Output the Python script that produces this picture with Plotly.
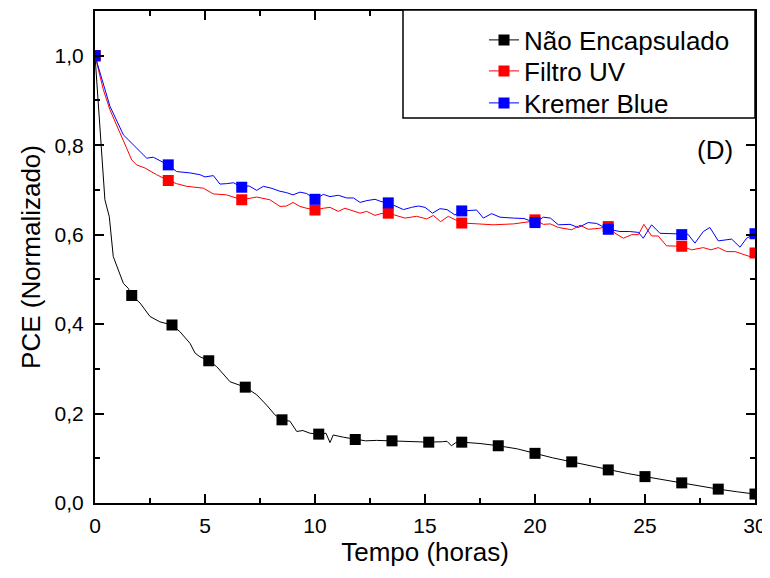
import plotly.graph_objects as go

# ---- data ----
black_x = [0, 0.1, 0.23, 0.45, 0.65, 0.76, 0.83, 1.06, 1.29, 1.51, 1.67, 2.05, 2.5, 2.95, 3.5,
           3.86, 4.32, 4.55, 4.77, 5.17, 5.53, 6.14, 6.83, 7.35, 7.8, 8.18, 8.5, 8.86, 9.17, 9.45,
           9.77, 10.17, 10.5, 10.68, 10.83, 11.3, 11.83, 12.3, 12.8, 13.5, 14.3, 15.17, 15.8,
           16.0, 16.2, 16.4, 16.67, 17.5, 18.33, 19.2, 20.0, 20.8, 21.67, 22.5, 23.33, 24.2,
           25.0, 25.8, 26.67, 27.5, 28.33, 29.2, 30.0]
black_y = [1.0, 0.93, 0.842, 0.678, 0.64, 0.581, 0.551, 0.521, 0.491, 0.48, 0.464, 0.447, 0.417,
           0.405, 0.398, 0.383, 0.357, 0.335, 0.327, 0.318, 0.305, 0.271, 0.259, 0.242, 0.219,
           0.197, 0.186, 0.183, 0.16, 0.162, 0.156, 0.154, 0.156, 0.135, 0.152, 0.147, 0.142,
           0.139, 0.140, 0.139, 0.138, 0.136, 0.137, 0.138, 0.128, 0.135, 0.136, 0.133, 0.128,
           0.121, 0.111, 0.101, 0.092, 0.083, 0.074, 0.066, 0.059, 0.052, 0.045, 0.038, 0.031,
           0.025, 0.02]
black_mx = [0, 1.67, 3.5, 5.17, 6.83, 8.5, 10.17, 11.83, 13.5, 15.17, 16.67, 18.33, 20.0,
            21.67, 23.33, 25.0, 26.67, 28.33, 30.0]
black_my = [1.0, 0.464, 0.398, 0.318, 0.259, 0.186, 0.154, 0.142, 0.139, 0.136, 0.136, 0.128,
            0.111, 0.092, 0.074, 0.059, 0.045, 0.031, 0.02]

red_x = [0, 0.38, 0.68, 1.29, 1.67, 1.89, 2.27, 2.8, 3.33, 3.71, 4.17, 4.92, 5.38, 5.98, 6.67,
         7.35, 7.95, 8.41, 8.71, 9.0, 9.32, 9.62, 10.0, 10.38, 10.68, 11.06, 11.36, 12.05,
         12.35, 12.73, 13.0, 13.33, 13.71, 14.09, 14.62, 15.08, 15.38, 15.71, 16.06, 16.67,
         17.42, 18.1, 19.02, 19.77, 20.0, 20.38, 20.7, 21.06, 21.67, 22.05, 22.42, 22.9, 23.33,
         23.64, 24.02, 24.4, 24.7, 24.95, 25.3, 25.6, 25.98, 26.44, 26.67, 27.12, 27.65, 28.0,
         28.33, 28.71, 29.1, 29.77, 30.0]
red_y = [1.0, 0.924, 0.879, 0.812, 0.767, 0.756, 0.749, 0.734, 0.721, 0.714, 0.708, 0.704,
         0.691, 0.689, 0.678, 0.684, 0.678, 0.663, 0.664, 0.672, 0.663, 0.659, 0.655, 0.659,
         0.661, 0.652, 0.659, 0.648, 0.652, 0.643, 0.647, 0.648, 0.643, 0.637, 0.641, 0.635,
         0.643, 0.629, 0.641, 0.626, 0.624, 0.622, 0.624, 0.629, 0.633, 0.623, 0.624, 0.616,
         0.611, 0.621, 0.612, 0.614, 0.618, 0.603, 0.592, 0.6, 0.6, 0.623, 0.597, 0.597, 0.575,
         0.574, 0.574, 0.566, 0.571, 0.566, 0.571, 0.562, 0.562, 0.551, 0.559]
red_mx = [0, 3.33, 6.67, 10.0, 13.33, 16.67, 20.0, 23.33, 26.67, 30.0]
red_my = [1.0, 0.721, 0.678, 0.655, 0.648, 0.626, 0.633, 0.618, 0.574, 0.559]

blue_x = [0, 0.38, 0.68, 1.29, 1.67, 2.35, 2.65, 2.95, 3.33, 3.71, 4.32, 4.77, 5.0, 5.38, 5.68,
          5.98, 6.3, 6.67, 7.0, 7.35, 7.65, 8.0, 8.41, 8.7, 9.0, 9.32, 9.62, 10.0, 10.38, 10.68,
          11.06, 11.44, 11.75, 12.05, 12.35, 12.73, 13.0, 13.33, 13.71, 14.02, 14.39, 14.7,
          15.0, 15.34, 15.68, 16.0, 16.36, 16.67, 17.35, 17.65, 18.03, 18.41, 19.02, 19.5,
          20.0, 20.38, 20.7, 21.06, 21.59, 21.97, 22.42, 22.8, 23.33, 23.86, 24.3, 24.7, 24.92,
          25.3, 25.68, 26.1, 26.67, 26.95, 27.27, 27.65, 27.95, 28.33, 28.94, 29.32, 29.62, 30.0]
blue_y = [1.0, 0.939, 0.887, 0.823, 0.805, 0.771, 0.773, 0.766, 0.756, 0.741, 0.738, 0.734,
          0.729, 0.732, 0.713, 0.714, 0.716, 0.706, 0.709, 0.699, 0.708, 0.704, 0.697, 0.694,
          0.689, 0.695, 0.692, 0.679, 0.69, 0.685, 0.688, 0.682, 0.682, 0.672, 0.676, 0.679,
          0.674, 0.671, 0.663, 0.656, 0.661, 0.664, 0.661, 0.648, 0.658, 0.656, 0.644, 0.653,
          0.655, 0.637, 0.647, 0.639, 0.637, 0.636, 0.627, 0.639, 0.637, 0.622, 0.623, 0.616,
          0.627, 0.625, 0.612, 0.607, 0.607, 0.605, 0.592, 0.622, 0.603, 0.602, 0.6, 0.601,
          0.581, 0.607, 0.616, 0.586, 0.59, 0.572, 0.592, 0.602]
blue_mx = [0, 3.33, 6.67, 10.0, 13.33, 16.67, 20.0, 23.33, 26.67, 30.0]
blue_my = [1.0, 0.756, 0.706, 0.679, 0.671, 0.653, 0.627, 0.612, 0.600, 0.602]

series_names = ["Não Encapsulado", "Filtro UV", "Kremer Blue"]
x_ticks = [0, 5, 10, 15, 20, 25, 30]
y_ticks = [0.0, 0.2, 0.4, 0.6, 0.8, 1.0]

FONT = "Liberation Sans"
colors = ["#000000", "#FF0000", "#0000FF"]
series = [
    (black_x, black_y, black_mx, black_my),
    (red_x, red_y, red_mx, red_my),
    (blue_x, blue_y, blue_mx, blue_my),
]

# page body has an 8px margin: plot area wanted at x 95..755, y 11..503 in the window
OFF = 8
PL, PR, PT, PB = 95 - OFF, 755 - OFF, 11 - OFF, 503 - OFF
W, H = 770, 578
PW, PH = PR - PL, PB - PT


def px_x(px):
    return (px - OFF - PL) / PW


def px_y(py):
    return (PB - (py - OFF)) / PH


fig = go.Figure()
for (lx, ly, mx, my), c in zip(series, colors):
    fig.add_trace(go.Scatter(x=lx, y=ly, mode="lines", line=dict(color=c, width=1),
                             showlegend=False, hoverinfo="skip"))
    fig.add_trace(go.Scatter(x=mx, y=my, mode="markers",
                             marker=dict(symbol="square", size=11, color=c, line=dict(width=0)),
                             showlegend=False))
legend_ids = ["legend", "legend2", "legend3"]
for name, c, lg in zip(series_names, colors, legend_ids):
    fig.add_trace(go.Scatter(x=[None], y=[None], mode="lines+markers", name=name,
                             line=dict(color=c, width=1), legend=lg,
                             marker=dict(symbol="square", size=11, color=c)))

axis_common = dict(
    showgrid=False, zeroline=False, showline=True, linecolor="black", linewidth=2,
    mirror="ticks", ticks="inside", ticklen=9, tickwidth=1.5, tickcolor="black",
    tickfont=dict(family=FONT, size=21, color="black"), automargin=False,
)
fig.update_xaxes(range=[0, 30], tickvals=x_ticks, ticktext=[str(v) for v in x_ticks],
                 ticklabelstandoff=3,
                 minor=dict(ticks="inside", ticklen=5, tickwidth=1.5, tickcolor="black", dtick=2.5, tick0=0),
                 title=dict(text="Tempo (horas)", font=dict(family=FONT, size=26, color="black"), standoff=7),
                 **axis_common)
fig.update_yaxes(range=[0, 1.1], tickvals=y_ticks,
                 ticktext=[f"{v:.1f}".replace(".", ",") for v in y_ticks],
                 ticklabelstandoff=5,
                 minor=dict(ticks="inside", ticklen=5, tickwidth=1.5, tickcolor="black", dtick=0.1, tick0=0),
                 title=dict(text="PCE (Normalizado)", font=dict(family=FONT, size=26, color="black"), standoff=6),
                 **axis_common)

fig.add_shape(type="rect", xref="paper", yref="paper", x0=px_x(403), x1=1.0,
              y0=px_y(118), y1=px_y(10),
              line=dict(color="black", width=1.5), fillcolor="white", layer="above")

fig.add_annotation(x=28.2, y=0.79, text="(D)", showarrow=False,
                   font=dict(family=FONT, size=26, color="black"))

leg_rows = [40, 71, 103]
leg_common = dict(xanchor="left", yanchor="middle", bgcolor="rgba(0,0,0,0)", borderwidth=0,
                  font=dict(family=FONT, size=26, color="black"))
fig.update_layout(
    width=W, height=H,
    margin=dict(l=PL, r=W - PR, t=PT, b=H - PB),
    paper_bgcolor="white", plot_bgcolor="white",
    showlegend=True,
    legend=dict(x=px_x(484), y=px_y(leg_rows[0]), **leg_common),
    legend2=dict(x=px_x(484), y=px_y(leg_rows[1]), **leg_common),
    legend3=dict(x=px_x(484), y=px_y(leg_rows[2]), **leg_common),
)

fig.write_html("out.html")
